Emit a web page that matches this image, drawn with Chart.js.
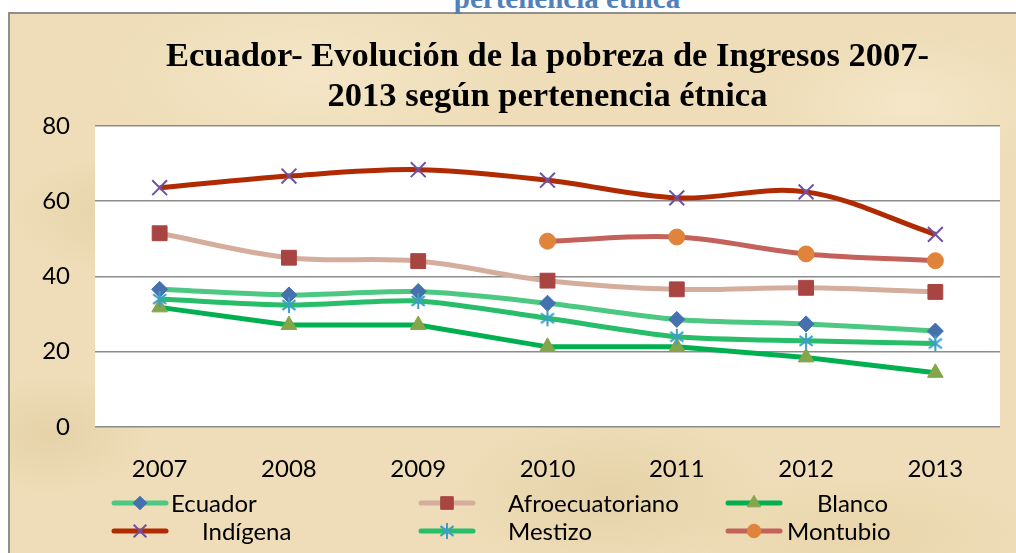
<!DOCTYPE html>
<html>
<head>
<meta charset="utf-8">
<script src="https://cdn.jsdelivr.net/npm/chart.js@4/dist/chart.umd.min.js"></script>
<style>
  html, body { margin:0; padding:0; background:#ffffff; }
  body { width:1016px; height:553px; position:relative; overflow:hidden; }
  #frame {
    position:absolute; left:8px; top:12px; width:1100px; height:600px;
    border:2px solid #8f8f8f; box-sizing:border-box;
    background-color:#EEDDB8;
    background-image:
      radial-gradient(ellipse 120px 60px at 120px 200px, rgba(214,190,140,0.35), rgba(214,190,140,0)),
      radial-gradient(ellipse 160px 80px at 600px 480px, rgba(214,190,140,0.35), rgba(214,190,140,0)),
      radial-gradient(ellipse 140px 70px at 900px 90px, rgba(250,240,215,0.5), rgba(250,240,215,0)),
      radial-gradient(ellipse 200px 90px at 300px 60px, rgba(250,240,215,0.45), rgba(250,240,215,0)),
      radial-gradient(ellipse 100px 60px at 40px 420px, rgba(214,190,140,0.35), rgba(214,190,140,0)),
      radial-gradient(ellipse 180px 60px at 850px 520px, rgba(224,200,150,0.35), rgba(224,200,150,0));
  }
  #toptext {
    position:absolute; left:0; width:1016px; top:-16px; text-align:center;
    padding-left:118px; box-sizing:border-box;
    font-family:"Liberation Serif", "DejaVu Serif", serif; font-weight:bold;
    font-size:29px; line-height:29px; color:#4F81BD; white-space:nowrap;
  }
  #wrap { position:absolute; left:0; top:0; width:1016px; height:553px; }
</style>
</head>
<body>
<div id="frame"></div>
<div id="toptext">pertenencia étnica</div>
<div id="wrap"><canvas id="c" width="1016" height="553"></canvas></div>
<script>
// ---- data ----
const years = ['2007', '2008', '2009', '2010', '2011', '2012', '2013'];
const seriesNames = ['Ecuador', 'Afroecuatoriano', 'Blanco', 'Indígena', 'Mestizo', 'Montubio'];
const ecuador   = [36.6, 35.1, 36.0, 32.9, 28.6, 27.4, 25.5];
const afro      = [51.5, 45.0, 44.1, 38.9, 36.6, 37.0, 35.9];
const blanco    = [31.8, 27.1, 27.1, 21.3, 21.3, 18.5, 14.4];
const indigena  = [63.6, 66.7, 68.4, 65.6, 60.9, 62.5, 51.2];
const mestizo   = [34.0, 32.4, 33.5, 28.9, 24.0, 22.9, 22.2];
const montubio  = [null, null, null, 49.4, 50.5, 46.0, 44.2];
const yTicks    = [0, 20, 40, 60, 80];
const titleLines = ['Ecuador- Evolución de la pobreza de Ingresos 2007-', '2013 según pertenencia étnica'];

// ---- styles ----
function asterisk(color, size, lw) {
  const cv = document.createElement('canvas');
  cv.width = size; cv.height = size;
  const g = cv.getContext('2d');
  g.strokeStyle = color; g.lineWidth = lw; g.lineCap = 'butt';
  const c = size / 2, r = size / 2 - 1;
  g.beginPath();
  g.moveTo(c, c - r); g.lineTo(c, c + r);
  const d = r * 0.82;
  g.moveTo(c - d, c - d * 0.75); g.lineTo(c + d, c + d * 0.75);
  g.moveTo(c - d, c + d * 0.75); g.lineTo(c + d, c - d * 0.75);
  g.stroke();
  return cv;
}
const styles = [
  { line:'#4DC882', mk:'#4571AE', ps:'rectRot', r:8,  bw:1, t:0.3 },
  { line:'#D5AD9D', mk:'#A84543', ps:'rect',    r:10.5, bw:1, t:0.35 },
  { line:'#00B050', mk:'#86A54B', ps:'triangle',r:9,  bw:1, t:0 },
  { line:'#B02A02', mk:'#7052A2', ps:'crossRot',r:10.5, bw:2, t:0.35 },
  { line:'#27BD69', mk:'#3B9FC4', ps:asterisk('#3B9FC4', 18, 2), r:9, bw:1, t:0.25 },
  { line:'#C2625B', mk:'#E0843C', ps:'circle',  r:8,  bw:1, t:0.35 }
];
const values = [ecuador, afro, blanco, indigena, mestizo, montubio];

const datasets = values.map((v, i) => ({
  label: seriesNames[i],
  data: v,
  borderColor: styles[i].line,
  borderWidth: 5,
  tension: styles[i].t,
  pointStyle: styles[i].ps,
  pointRadius: styles[i].r,
  pointHoverRadius: styles[i].r,
  pointBackgroundColor: styles[i].mk,
  pointBorderColor: styles[i].mk,
  pointBorderWidth: styles[i].bw,
  order: values.length - i
}));

const FONT = 'Lato, "Open Sans", sans-serif';

const plotBg = {
  id: 'plotBg',
  beforeDraw(chart) {
    const a = chart.chartArea, ctx = chart.ctx;
    ctx.save(); ctx.fillStyle = '#ffffff';
    ctx.fillRect(a.left, a.top, a.right - a.left, a.bottom - a.top);
    ctx.restore();
  }
};

// legend layout (3 columns x 2 rows)
const legendCols = [112, 419, 726];
const legendRows = [503, 531];
const legendTextX = [171, 508, 817, 202, 508, 787];
const customLegend = {
  id: 'customLegend',
  afterDraw(chart) {
    const ctx = chart.ctx;
    ctx.save();
    chart.data.datasets.forEach((ds, i) => {
      const col = i % 3, row = Math.floor(i / 3);
      const x0 = legendCols[col], y = legendRows[row];
      ctx.strokeStyle = ds.borderColor; ctx.lineWidth = 5; ctx.lineCap = 'round';
      ctx.beginPath(); ctx.moveTo(x0 + 2, y); ctx.lineTo(x0 + 54, y); ctx.stroke();
      ctx.lineCap = 'butt';
      ctx.fillStyle = ds.pointBackgroundColor; ctx.strokeStyle = ds.pointBorderColor;
      ctx.lineWidth = ds.pointBorderWidth;
      Chart.helpers.drawPoint(ctx, {
        pointStyle: ds.pointStyle, radius: ds.pointRadius * 0.85, rotation: 0,
        borderWidth: ds.pointBorderWidth
      }, x0 + 28, y);
      ctx.fillStyle = '#000000';
      ctx.font = '24px ' + FONT;
      ctx.textBaseline = 'middle'; ctx.textAlign = 'left';
      ctx.fillText(ds.label, legendTextX[i], y + 1);
    });
    ctx.restore();
  }
};

new Chart(document.getElementById('c'), {
  type: 'line',
  data: { labels: years, datasets },
  plugins: [plotBg, customLegend],
  options: {
    responsive: false,
    animation: false,
    events: [],
    layout: { padding: { left: 0, right: 16, top: 0, bottom: 0 } },
    plugins: {
      legend: { display: false },
      tooltip: { enabled: false },
      title: {
        display: true,
        text: titleLines,
        fullSize: false,
        color: '#000000',
        font: { family: '"Liberation Serif", "DejaVu Serif", serif', size: 34.5, weight: 'bold', lineHeight: 1.16 },
        padding: { top: 37, bottom: 9 }
      }
    },
    scales: {
      x: {
        offset: true,
        grid: { display: false },
        border: { display: false },
        ticks: { color: '#000', font: { family: FONT, size: 24 }, padding: 20, maxRotation: 0 },
        afterFit(axis) { axis.height = 126; }
      },
      y: {
        min: 0, max: 80,
        afterBuildTicks(axis) { axis.ticks = yTicks.map(v => ({ value: v })); },
        grid: { color: '#8c8c8c', lineWidth: 1.6, drawTicks: false },
        border: { display: false },
        ticks: { color: '#000', font: { family: FONT, size: 24 }, padding: 25 },
        afterFit(axis) { axis.width = 95; }
      }
    }
  }
});
</script>
</body>
</html>
